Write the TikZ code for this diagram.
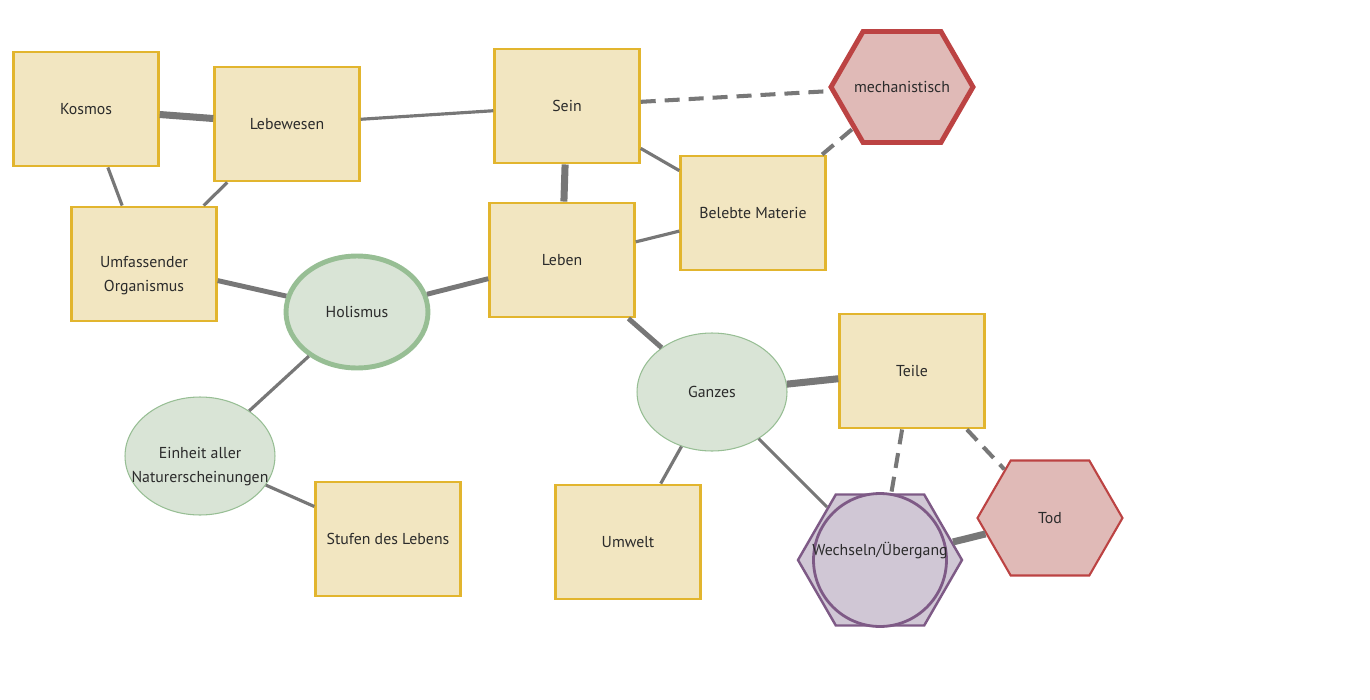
\documentclass[tikz,border=0pt]{standalone}
\usepackage{fontspec}
\setmainfont{PT Sans}
\usetikzlibrary{shapes.geometric, shapes.symbols}

\definecolor{boxfill}{HTML}{F2E6C1}
\definecolor{boxline}{HTML}{E2B52E}
\definecolor{ovalfill}{HTML}{D9E4D6}
\definecolor{ovalline}{HTML}{97BE94}
\definecolor{redfill}{HTML}{E0BAB7}
\definecolor{redline}{HTML}{BC4343}
\definecolor{lilacfill}{HTML}{D0C7D5}
\definecolor{lilacline}{HTML}{7E5A86}
\definecolor{linkgray}{HTML}{777777}
\definecolor{textgray}{HTML}{2B2B2B}

\begin{document}
\begin{tikzpicture}[x=0.02cm, y=-0.02cm,
  every node/.style={font=\fontsize{9}{13.6}\selectfont, text=textgray},
  every label/.style={align=center},
  conceptbox/.style={rectangle, draw=boxline, fill=boxfill, line width=1.4pt,
    minimum width=2.9cm, minimum height=2.29cm, align=center},
  conceptoval/.style={ellipse, draw=ovalline, fill=ovalfill, line width=0.6pt,
    minimum width=3cm, minimum height=2.36cm, inner sep=0pt},
  hexnode/.style={signal, signal to=east and west, signal pointer angle=120,
    inner sep=0pt},
  thin link/.style={draw=linkgray, line width=1.8pt},
  mid link/.style={draw=linkgray, line width=2.8pt},
  thick link/.style={draw=linkgray, line width=4pt},
  dashed link/.style={draw=linkgray, line width=2.3pt, dash pattern=on 0.3cm off 0.18cm}]
  \useasboundingbox (0,0) rectangle (1370,700);

  % Boxes
  \node[conceptbox] (kosmos) at (86,109) {Kosmos};
  \node[conceptbox] (lebewesen) at (287,124) {Lebewesen};
  \node[conceptbox] (sein) at (567,106) {Sein};
  \node[conceptbox] (materie) at (753,213) {Belebte Materie};
  \node[conceptbox, label={[yshift=-0.24cm]center:Umfassender\\Organismus}]
    (organismus) at (144,264) {};
  \node[conceptbox] (leben) at (562,260) {Leben};
  \node[conceptbox] (teile) at (912,371) {Teile};
  \node[conceptbox] (stufen) at (388,539) {Stufen des Lebens};
  \node[conceptbox] (umwelt) at (628,542) {Umwelt};

  % Ovals
  \node[conceptoval, draw=ovalline, line width=2.8pt, minimum width=2.84cm,
    minimum height=2.24cm] (holismus) at (357,312) {Holismus};
  \node[conceptoval] (ganzes) at (712,392) {Ganzes};
  \node[conceptoval, label={[yshift=-0.22cm]center:Einheit aller\\Naturerscheinungen}]
    (einheit) at (200,456) {};

  % Hexagons
  \node[hexnode, draw=redline, fill=redfill, line width=2.8pt,
    minimum width=2.84cm, minimum height=2.22cm] (mechanistisch) at (902,87)
    {\makebox[0pt]{mechanistisch}};
  \node[hexnode, draw=redline, fill=redfill, line width=1.2pt,
    minimum width=2.9cm, minimum height=2.3cm] (tod) at (1050,518) {Tod};
  \node[hexnode, draw=lilacline, fill=lilacfill, line width=1.4pt,
    minimum width=3.28cm, minimum height=2.62cm] (wechsel) at (880,560) {};
  \node[circle, draw=lilacline, fill=lilacfill, line width=1.6pt,
    minimum size=2.66cm, inner sep=0pt,
    label={[yshift=0.18cm]center:Wechseln/Übergang}] (wechselkreis) at (wechsel) {};

  % Solid links
  \path[thin link]
    (kosmos) -- (organismus)
    (lebewesen) -- (organismus)
    (lebewesen) -- (sein)
    (sein) -- (materie)
    (leben) -- (materie)
    (holismus) -- (einheit)
    (einheit) -- (stufen)
    (ganzes) -- (umwelt)
    (ganzes) -- (wechsel);
  \path[mid link]
    (organismus) -- (holismus)
    (holismus) -- (leben)
    (leben) -- (ganzes);
  \path[thick link]
    (kosmos) -- (lebewesen)
    (sein) -- (leben)
    (ganzes) -- (teile)
    (wechsel) -- (tod);

  % Dashed links
  \path[dashed link]
    (sein) -- (mechanistisch)
    (materie) -- (mechanistisch)
    (teile) -- (wechsel)
    (teile) -- (tod);
\end{tikzpicture}
\end{document}
